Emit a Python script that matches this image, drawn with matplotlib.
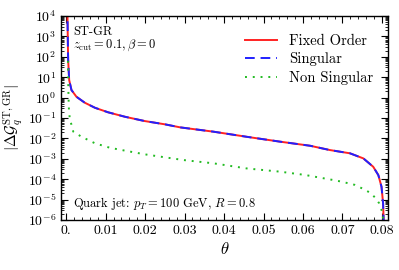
import numpy as np
import matplotlib
matplotlib.use("Agg")
import matplotlib.pyplot as plt
from matplotlib.ticker import MultipleLocator, FuncFormatter, LogLocator, NullFormatter

plt.rcParams['font.family'] = 'serif'
plt.rcParams['font.serif'] = ['cmr10', 'DejaVu Serif']
plt.rcParams['mathtext.fontset'] = 'cm'
plt.rcParams['axes.formatter.use_mathtext'] = True
plt.rcParams['axes.unicode_minus'] = False

# values (log10 of |dG|)
theta_fo = [0.0003, 0.0004, 0.0005, 0.00076, 0.00134, 0.0026, 0.0047, 0.0073, 0.0106,
            0.0149, 0.0199, 0.025, 0.0289, 0.0373, 0.0457, 0.0542, 0.0618, 0.0668,
            0.0719, 0.0753, 0.0778, 0.0791, 0.0799, 0.0803, 0.0806]
logG_fo = [4.5, 3.0, 1.84, 0.86, 0.37, 0.04, -0.25, -0.5, -0.72,
           -0.94, -1.15, -1.31, -1.46, -1.67, -1.92, -2.16, -2.36, -2.57,
           -2.73, -2.98, -3.39, -3.8, -4.37, -5.18, -7.0]

theta_ns = [0.00045, 0.0005, 0.0006, 0.0007, 0.0009, 0.0018, 0.0039, 0.0073, 0.0111,
            0.0149, 0.0199, 0.0241, 0.0297, 0.0373, 0.0457, 0.0542, 0.0605, 0.0677,
            0.0698, 0.0732, 0.0753, 0.077, 0.0785, 0.0793, 0.0799, 0.0803, 0.0805]
logG_ns = [1.8, 0.9, 0.0, -0.6, -1.01, -1.67, -1.92, -2.24, -2.46,
           -2.6, -2.78, -2.9, -3.06, -3.22, -3.47, -3.63, -3.79, -4.04,
           -4.12, -4.28, -4.48, -4.66, -4.94, -5.18, -5.5, -5.92, -7.0]

fo = np.power(10.0, logG_fo)
sing = np.power(10.0, logG_fo)
ns = np.power(10.0, logG_ns)

fig = plt.figure(figsize=(3.99, 2.70), dpi=100)
ax = fig.add_axes([0.153, 0.185, 0.82, 0.756])

ax.plot(theta_fo, fo, color='#ff2222', lw=1.4, label='Fixed Order')
ax.plot(theta_fo, sing, color='#2020ff', lw=1.4, ls=(0, (5, 3)), label='Singular')
ax.plot(theta_ns, ns, color='#22bb22', lw=1.4, ls=(0, (1, 3)), label='Non Singular')

ax.set_yscale('log')
ax.set_ylim(1e-6, 1e4)
ax.set_xlim(-0.0013, 0.0816)

ax.xaxis.set_major_locator(MultipleLocator(0.01))
ax.xaxis.set_minor_locator(MultipleLocator(0.002))
ax.xaxis.set_major_formatter(FuncFormatter(lambda v, p: '0.' if abs(v) < 1e-9 else '%.2f' % v))
ax.yaxis.set_major_locator(LogLocator(base=10, numticks=20))
ax.yaxis.set_minor_locator(LogLocator(base=10, subs=np.arange(2, 10), numticks=20))
ax.yaxis.set_minor_formatter(NullFormatter())

ax.tick_params(which='both', direction='in', top=True, right=True, labelsize=10)
ax.tick_params(which='major', length=5, width=0.8)
ax.tick_params(which='minor', length=2.5, width=0.6)
for s in ax.spines.values():
    s.set_linewidth(1.0)

ax.set_xlabel(r'$\theta$', fontsize=12, labelpad=3)
ax.set_ylabel(r'$|\Delta\mathcal{G}_q^{\rm ST,GR}|$', fontsize=11, labelpad=2)

ax.text(0.036, 0.92, 'ST-GR', transform=ax.transAxes, fontsize=9, va='center')
ax.text(0.036, 0.855, r'$z_{\rm cut}=0.1, \beta=0$', transform=ax.transAxes, fontsize=9, va='center')
ax.text(0.036, 0.083, r'Quark jet: $p_T = 100$ GeV, $R=0.8$', transform=ax.transAxes, fontsize=9, va='center')

ax.legend(loc='upper right', frameon=False, fontsize=10.5, handlelength=2.2,
          bbox_to_anchor=(0.985, 0.96), borderaxespad=0.3, labelspacing=0.3)

fig.savefig('out.png', dpi=100)
